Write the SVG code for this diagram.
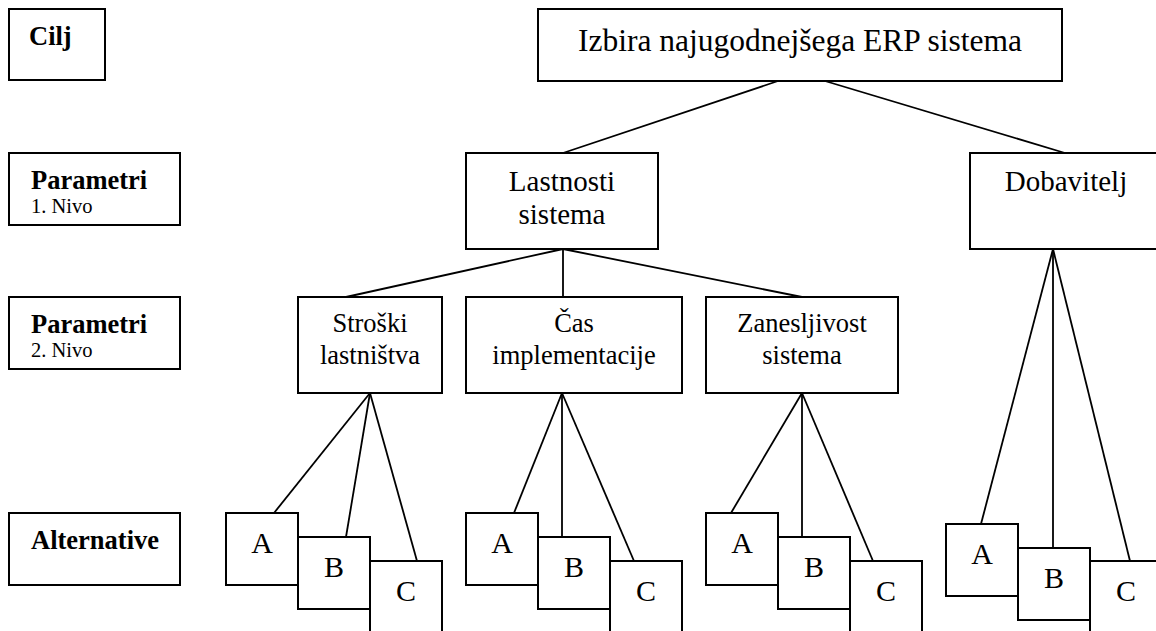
<svg xmlns="http://www.w3.org/2000/svg" width="1156" height="631" viewBox="0 0 1156 631" font-family="'Liberation Serif','Times New Roman',serif">
<style>
rect{fill:#fff;stroke:#000;stroke-width:2}
.c line{stroke:#000;stroke-width:1.8}
text{font-family:"Liberation Serif","Times New Roman",serif;fill:#000}
.b{font-weight:bold;font-size:26.5px}
.s{font-size:20.5px}
.t{font-size:31.5px;text-anchor:middle}
.l1{font-size:29px;text-anchor:middle}
.l2{font-size:26.5px;text-anchor:middle}
.abc{font-size:30px;text-anchor:middle}
</style>
<rect width="1156" height="631" style="stroke:none"/>
<g id="lbl-cilj"><rect x="9" y="9" width="96" height="71"/><text class="b" x="29" y="45">Cilj</text></g>
<g id="lbl-p1"><rect x="9" y="153" width="171" height="72"/><text class="b" x="31" y="189">Parametri</text><text class="s" x="31" y="213">1. Nivo</text></g>
<g id="lbl-p2"><rect x="9" y="297" width="171" height="72"/><text class="b" x="31" y="333">Parametri</text><text class="s" x="31" y="357">2. Nivo</text></g>
<g id="lbl-alt"><rect x="9" y="513" width="171" height="72"/><text class="b" x="31" y="549">Alternative</text></g>

<g class="c" id="connectors">
<line x1="778" y1="81" x2="563" y2="153"/>
<line x1="825" y1="81" x2="1065" y2="153"/>
<line x1="563" y1="249" x2="346" y2="297"/>
<line x1="563" y1="249" x2="563" y2="297"/>
<line x1="563" y1="249" x2="802" y2="297"/>
<line x1="370" y1="393" x2="274" y2="513"/>
<line x1="370" y1="393" x2="346" y2="537"/>
<line x1="370" y1="393" x2="417" y2="561"/>
<line x1="562" y1="393" x2="514" y2="513"/>
<line x1="562" y1="393" x2="562" y2="537"/>
<line x1="562" y1="393" x2="634" y2="561"/>
<line x1="802" y1="393" x2="731" y2="513"/>
<line x1="802" y1="393" x2="802" y2="537"/>
<line x1="802" y1="393" x2="873" y2="561"/>
<line x1="1053" y1="249" x2="981" y2="524"/>
<line x1="1053" y1="249" x2="1053" y2="548"/>
<line x1="1053" y1="249" x2="1130" y2="561"/>
</g>

<g id="goal"><rect x="538" y="9" width="524" height="72"/><text class="t" x="800" y="51">Izbira najugodnejšega ERP sistema</text></g>
<g id="lastnosti"><rect x="466" y="153" width="192" height="96"/><text class="l1" x="562" y="191">Lastnosti</text><text class="l1" x="562" y="224">sistema</text></g>
<g id="dobavitelj"><rect x="970" y="153" width="192" height="96"/><text class="l1" x="1066" y="191">Dobavitelj</text></g>
<g id="stroski"><rect x="298" y="297" width="144" height="96"/><text class="l2" x="370" y="332">Stroški</text><text class="l2" x="370" y="364">lastništva</text></g>
<g id="cas"><rect x="466" y="297" width="216" height="96"/><text class="l2" x="574" y="332">Čas</text><text class="l2" x="574" y="364">implementacije</text></g>
<g id="zanesljivost"><rect x="706" y="297" width="192" height="96"/><text class="l2" x="802" y="332">Zanesljivost</text><text class="l2" x="802" y="364">sistema</text></g>

<g id="s-a"><rect x="226" y="513" width="72" height="72"/><text class="abc" x="262" y="553">A</text></g>
<g id="s-b"><rect x="298" y="537" width="72" height="72"/><text class="abc" x="334" y="577">B</text></g>
<g id="s-c"><rect x="370" y="561" width="72" height="80"/><text class="abc" x="406" y="601">C</text></g>

<g id="c-a"><rect x="466" y="513" width="72" height="72"/><text class="abc" x="502" y="553">A</text></g>
<g id="c-b"><rect x="538" y="537" width="72" height="72"/><text class="abc" x="574" y="577">B</text></g>
<g id="c-c"><rect x="610" y="561" width="72" height="80"/><text class="abc" x="646" y="601">C</text></g>

<g id="z-a"><rect x="706" y="513" width="72" height="72"/><text class="abc" x="742" y="553">A</text></g>
<g id="z-b"><rect x="778" y="537" width="72" height="72"/><text class="abc" x="814" y="577">B</text></g>
<g id="z-c"><rect x="850" y="561" width="72" height="80"/><text class="abc" x="886" y="601">C</text></g>

<g id="d-a"><rect x="946" y="524" width="72" height="72"/><text class="abc" x="982" y="564">A</text></g>
<g id="d-b"><rect x="1018" y="548" width="72" height="72"/><text class="abc" x="1054" y="588">B</text></g>
<g id="d-c"><rect x="1090" y="561" width="72" height="80"/><text class="abc" x="1126" y="601">C</text></g>
</svg>
